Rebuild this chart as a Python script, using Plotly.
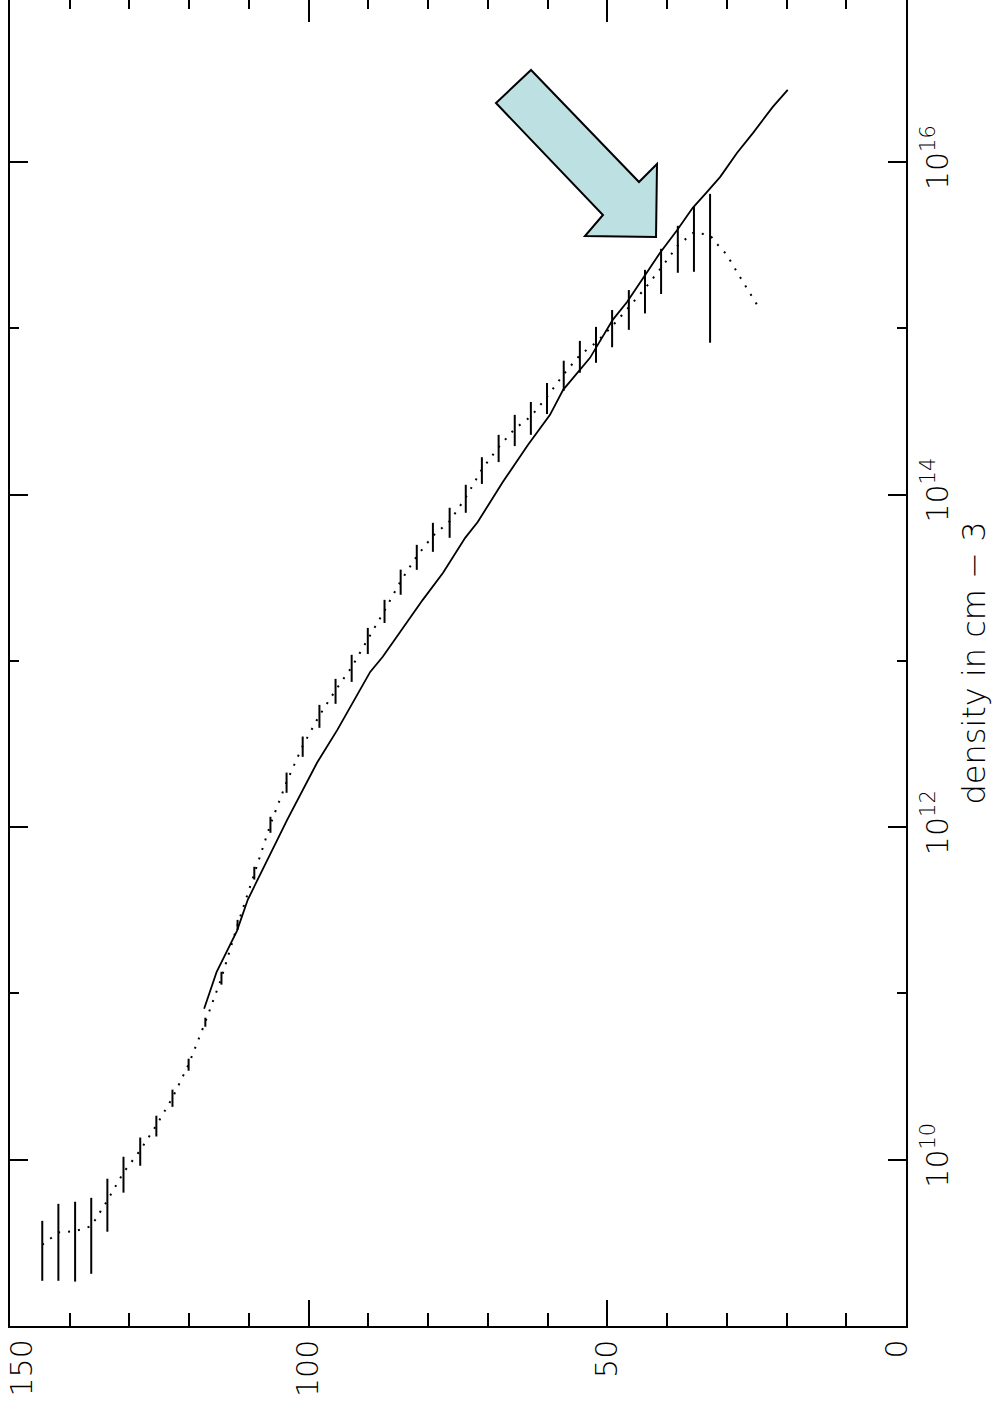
import plotly.graph_objects as go

# ---- data ----
# measured points: x value, density (cm^-3) and its symmetric error
bar_v = [144.6, 141.9, 139.1, 136.4, 133.7, 131.0, 128.2, 125.5, 122.8, 120.1,
         117.3, 114.6, 111.9, 109.1, 106.4, 103.7, 101.0, 98.2, 95.5, 92.8,
         90.1, 87.3, 84.6, 81.9, 79.2, 76.4, 73.7, 71.0, 68.2, 65.5,
         62.8, 60.1, 57.3, 54.6, 51.9, 49.2, 46.4, 43.7, 41.0, 38.2,
         35.5, 32.8]
bar_n = [3.08e9, 3.65e9, 3.72e9, 3.98e9, 5.69e9, 8.38e9, 1.14e10, 1.61e10, 2.36e10, 3.74e10,
         6.73e10, 1.24e11, 2.59e11, 5.31e11, 1.04e12, 1.87e12, 3.08e12, 4.70e12, 6.66e12, 9.18e12,
         1.34e13, 2.01e13, 3.02e13, 4.26e13, 5.65e13, 6.92e13, 9.62e13, 1.42e14, 1.93e14, 2.49e14,
         2.95e14, 3.88e14, 5.30e14, 6.91e14, 8.21e14, 1.03e15, 1.34e15, 1.74e15, 2.31e15, 3.15e15,
         3.79e15, 3.63e15]
bar_e = [1.21e9, 1.78e9, 1.87e9, 1.92e9, 2.0e9, 2.04e9, 2.2e9, 2.3e9, 2.8e9, 3.1e9,
         4.2e9, 1.1e10, 1.8e10, 4.7e10, 1.15e11, 2.6e11, 4.3e11, 7.4e11, 1.14e12, 1.70e12,
         2.4e12, 3.2e12, 5.2e12, 7.3e12, 1.12e13, 1.42e13, 1.84e13, 2.6e13, 3.6e13, 5.3e13,
         6.6e13, 8.2e13, 1.09e14, 1.5e14, 2.0e14, 2.6e14, 3.6e14, 5.1e14, 7.0e14, 9.9e14,
         1.6e15, 2.81e15]

# dotted fit curve continues past the last measured point
ext_v = [31.5, 30.0, 27.8, 25.8, 24.4]
ext_n = [3.18e15, 2.77e15, 2.04e15, 1.55e15, 1.29e15]

# solid model curve
sol_v = [117.5, 115.4, 112.0, 110.2, 103.6, 98.6, 95.2, 89.7, 87.6, 85.2,
         80.9, 77.5, 73.8, 71.7, 67.5, 63.3, 59.6, 57.4, 54.6, 52.9,
         49.1, 46.7, 44.0, 41.2, 38.3, 35.7, 33.3, 31.1, 28.3, 25.6,
         22.3, 19.8]
sol_n = [8.09e10, 1.35e11, 2.38e11, 3.66e11, 1.107e12, 2.44e12, 3.85e12, 8.59e12, 1.06e13, 1.40e13,
         2.33e13, 3.39e13, 5.50e13, 6.85e13, 1.19e14, 1.99e14, 3.02e14, 4.27e14, 5.62e14, 6.65e14,
         1.125e15, 1.44e15, 2.01e15, 2.84e15, 3.91e15, 5.31e15, 6.62e15, 8.15e15, 1.135e16, 1.50e16,
         2.15e16, 2.72e16]

x_ticks = [0, 50, 100, 150]
x_ticktext = ["0", "50", "100", "150"]
x_minor = [10, 20, 30, 40, 60, 70, 80, 90, 110, 120, 130, 140]
y_ticks = [1e10, 1e12, 1e14, 1e16]
y_ticktext = ["10<sup>10</sup>", "10<sup>12</sup>", "10<sup>14</sup>", "10<sup>16</sup>"]
y_minor = [1e9, 1e11, 1e13, 1e15, 1e17]
y_title = "density in cm − 3"

FONT = "DejaVu Sans"
BLACK = "black"

fig = go.Figure()
fig.add_trace(go.Scatter(x=sol_v, y=sol_n, mode="lines",
                         line=dict(color=BLACK, width=1.8), showlegend=False))
fig.add_trace(go.Scatter(x=bar_v + ext_v, y=bar_n + ext_n, mode="lines",
                         line=dict(color=BLACK, width=2, dash="2px,8px"), showlegend=False))
fig.add_trace(go.Scatter(x=bar_v, y=bar_n, mode="markers",
                         marker=dict(size=2, color="rgba(0,0,0,0)"),
                         error_y=dict(type="data", array=bar_e, visible=True,
                                      color=BLACK, thickness=2, width=0),
                         showlegend=False))
# helper trace so the mirror axes (top ticks, left frame) are drawn
fig.add_trace(go.Scatter(x=[None], y=[None], xaxis="x2", yaxis="y2", showlegend=False))

tick_font = dict(family=FONT, size=30, color=BLACK, weight=200)

# inner tick labels on the axis; the two end labels are nudged inward like the original
inner_text = [t if v not in (x_ticks[0], x_ticks[-1]) else "" for v, t in zip(x_ticks, x_ticktext)]

fig.update_layout(
    width=1000, height=1408,
    margin=dict(l=10, r=94, t=0, b=82),
    paper_bgcolor="white", plot_bgcolor="white",
    showlegend=False,
    xaxis=dict(range=[150, 0], tickmode="array", tickvals=x_ticks,
               ticktext=inner_text, ticks="inside", ticklen=26,
               tickwidth=1.5, tickcolor=BLACK, showline=True, linewidth=1.5,
               linecolor=BLACK, tickangle=-90, tickfont=tick_font,
               ticklabelstandoff=0, ticklabeloverflow="allow",
               minor=dict(tickmode="array", tickvals=x_minor, ticks="inside",
                          ticklen=13, tickwidth=1.5, tickcolor=BLACK),
               showgrid=False, zeroline=False, automargin=False),
    xaxis2=dict(range=[150, 0], overlaying="x", side="top", tickmode="array",
                tickvals=x_ticks, ticks="inside", ticklen=22, tickwidth=1.5,
                tickcolor=BLACK, showline=False, showticklabels=False,
                minor=dict(tickmode="array", tickvals=x_minor, ticks="inside",
                           ticklen=9, tickwidth=1.5, tickcolor=BLACK),
                showgrid=False, zeroline=False, automargin=False),
    yaxis=dict(type="log", range=[9, 16.975], side="right", tickmode="array",
               tickvals=y_ticks, ticktext=y_ticktext, ticks="inside", ticklen=18,
               tickwidth=1.5, tickcolor=BLACK, showline=True, linewidth=1.5,
               linecolor=BLACK, tickangle=-90, tickfont=tick_font,
               ticklabelstandoff=4, ticklabeloverflow="allow",
               minor=dict(tickmode="array", tickvals=y_minor, ticks="inside",
                          ticklen=9, tickwidth=1.5, tickcolor=BLACK),
               title=dict(text=y_title, font=dict(family=FONT, size=32, color=BLACK, weight=200),
                          standoff=8),
               showgrid=False, zeroline=False, automargin=False),
    yaxis2=dict(type="log", range=[9, 16.975], overlaying="y", side="left",
                tickmode="array", tickvals=y_ticks, ticks="inside", ticklen=18,
                tickwidth=1.5, tickcolor=BLACK, showline=True, linewidth=1.5,
                linecolor=BLACK, showticklabels=False,
                minor=dict(tickmode="array", tickvals=y_minor, ticks="inside",
                           ticklen=9, tickwidth=1.5, tickcolor=BLACK),
                showgrid=False, zeroline=False, automargin=False),
)

# end labels of the value axis, nudged inward so they stay on the page
for v, t, shift in [(x_ticks[-1], x_ticktext[-1], 11), (x_ticks[0], x_ticktext[0], -10)]:
    fig.add_annotation(x=v, y=0, xref="x", yref="paper", text=t, showarrow=False,
                       textangle=-90, font=tick_font, xanchor="center", yanchor="top",
                       xshift=shift, yshift=-12)

# highlight arrow (paper coordinates)
arrow_path = ("M 0.5815 0.9472 L 0.7020 0.8627 L 0.7221 0.8763 L 0.7210 0.8213 "
              "L 0.6417 0.8220 L 0.6618 0.8379 L 0.5424 0.9223 Z")
fig.add_shape(type="path", path=arrow_path, xref="paper", yref="paper",
              fillcolor="#bde0e3", line=dict(color=BLACK, width=2), layer="above")

fig.write_html("out.html", config={"displayModeBar": False},
               post_script="document.body.style.margin='0px';")
